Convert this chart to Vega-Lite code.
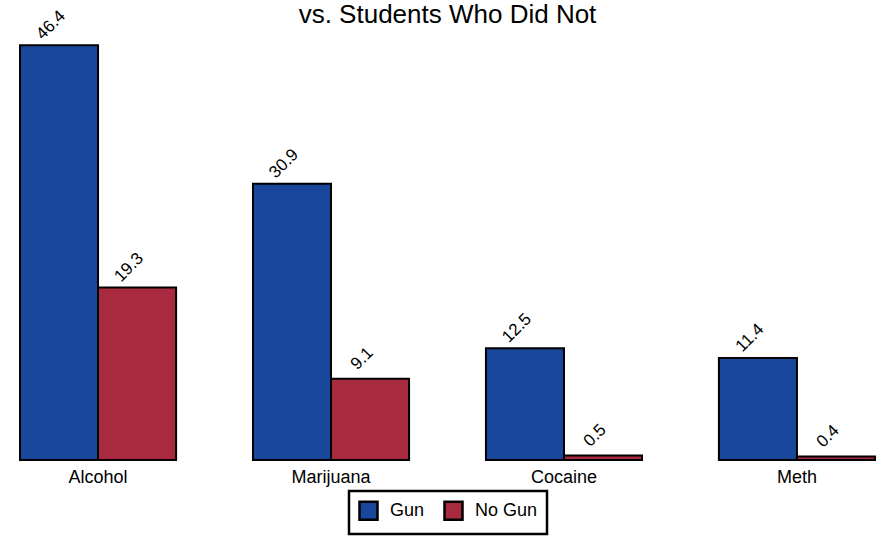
{
  "$schema": "https://vega.github.io/schema/vega-lite/v6.json",
  "autosize": {"type": "none"},
  "padding": {"left": 20, "top": 13, "right": 3, "bottom": 78},
  "width": 855,
  "height": 447,
  "background": "white",
  "config": {"view": {"stroke": null}, "font": "Liberation Sans", "legend": {"layout": {"bottom": {"anchor": "middle"}}}},
  "title": {"text": "vs. Students Who Did Not", "fontSize": 26, "fontWeight": "normal", "font": "Liberation Sans", "color": "black", "offset": -21, "anchor": "middle"},
  "data": {"values": [
    {"drug": "Alcohol", "group": "Gun", "value": 46.4},
    {"drug": "Alcohol", "group": "No Gun", "value": 19.3},
    {"drug": "Marijuana", "group": "Gun", "value": 30.9},
    {"drug": "Marijuana", "group": "No Gun", "value": 9.1},
    {"drug": "Cocaine", "group": "Gun", "value": 12.5},
    {"drug": "Cocaine", "group": "No Gun", "value": 0.5},
    {"drug": "Meth", "group": "Gun", "value": 11.4},
    {"drug": "Meth", "group": "No Gun", "value": 0.4}
  ]},
  "encoding": {
    "x": {"field": "drug", "type": "nominal", "sort": ["Alcohol", "Marijuana", "Cocaine", "Meth"],
      "scale": {"paddingInner": 0.33, "paddingOuter": 0},
      "axis": {"title": null, "domain": false, "ticks": false, "labelAngle": 0, "labelFontSize": 18, "labelColor": "black", "labelPadding": 8, "labelFont": "Liberation Sans"}},
    "xOffset": {"field": "group", "type": "nominal", "scale": {"paddingInner": 0, "paddingOuter": 0}},
    "y": {"field": "value", "type": "quantitative", "scale": {"domain": [0, 50], "nice": false}, "axis": null}
  },
  "layer": [
    {
      "mark": {"type": "bar", "stroke": "black", "strokeWidth": 2},
      "encoding": {
        "color": {"field": "group", "type": "nominal",
          "scale": {"domain": ["Gun", "No Gun"], "range": ["#19479b", "#a82a3e"]},
          "legend": {"title": null, "orient": "bottom", "direction": "horizontal", "symbolType": "square", "symbolSize": 324, "symbolStrokeColor": "black", "symbolStrokeWidth": 2.5, "symbolOpacity": 1, "labelFontSize": 18, "labelColor": "black", "labelFont": "Liberation Sans", "strokeColor": "black", "fillColor": "white", "padding": 9, "offset": 5, "columnPadding": 14, "labelOffset": 11,
            "encode": {"legend": {"update": {"strokeWidth": {"value": 2.5}}}}}
        }
      }
    },
    {
      "mark": {"type": "text", "angle": -45, "align": "center", "baseline": "middle", "dx": 8.5, "dy": -19.8, "fontSize": 17, "color": "black", "font": "Liberation Sans"},
      "encoding": {"text": {"field": "value", "type": "quantitative", "format": ".1f"}}
    }
  ]
}
